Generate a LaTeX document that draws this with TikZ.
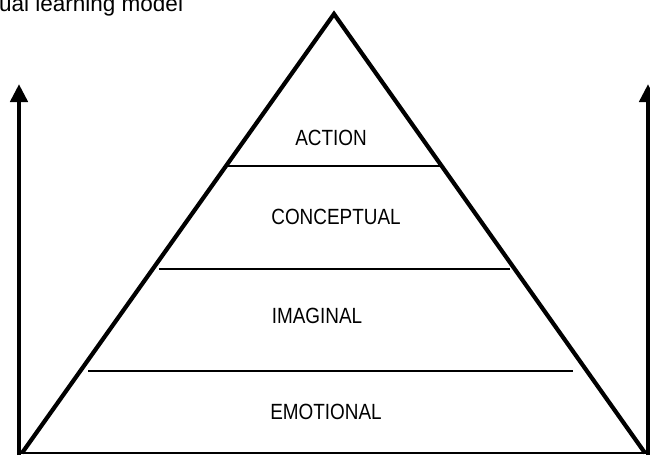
\documentclass[tikz,border=0pt]{standalone}
\usepackage{fontspec}
\setmainfont{Liberation Sans}
\newfontfamily\narrowfont[FakeStretch=0.86]{Liberation Sans}
\usetikzlibrary{arrows.meta}
\begin{document}
\begin{tikzpicture}[x=1pt,y=-1pt]
\tikzset{
	layer label/.style={font=\narrowfont\fontsize{22}{26}\selectfont,inner sep=0},
	layer line/.style={line width=1.8pt},
	side line/.style={line width=4.2pt,line join=miter},
	side arrow/.style={line width=4.5pt,-{Triangle[width=17pt,length=18pt]}}
}
\useasboundingbox (0,0) rectangle (650,456);
% title, cut by the page edge
\node[anchor=base west,inner sep=0,font=\fontsize{22.5}{26}\selectfont] (title) at (-1,11) {ual learning model};
% pyramid
\coordinate (apex) at (334,14);
\coordinate (bl) at (22,453);
\coordinate (br) at (645,453);
\draw[side line] (bl) -- (apex) -- (br);
\draw[layer line] (18,453) -- (648,453);
\draw[layer line] (228,166) -- (440,166);
\draw[layer line] (159,269) -- (510,269);
\draw[layer line] (88,371) -- (573,371);
% side arrows
\coordinate (la bottom) at (19,455);
\coordinate (la top) at (19,84);
\coordinate (ra bottom) at (648,455);
\coordinate (ra top) at (648,84);
\draw[side arrow] (la bottom) -- (la top);
\draw[side arrow] (ra bottom) -- (ra top);
% layers
\node[layer label] (action) at (331,138) {ACTION};
\node[layer label] (conceptual) at (336,217) {CONCEPTUAL};
\node[layer label] (imaginal) at (317,316) {IMAGINAL};
\node[layer label] (emotional) at (326,412) {EMOTIONAL};
\end{tikzpicture}
\end{document}
